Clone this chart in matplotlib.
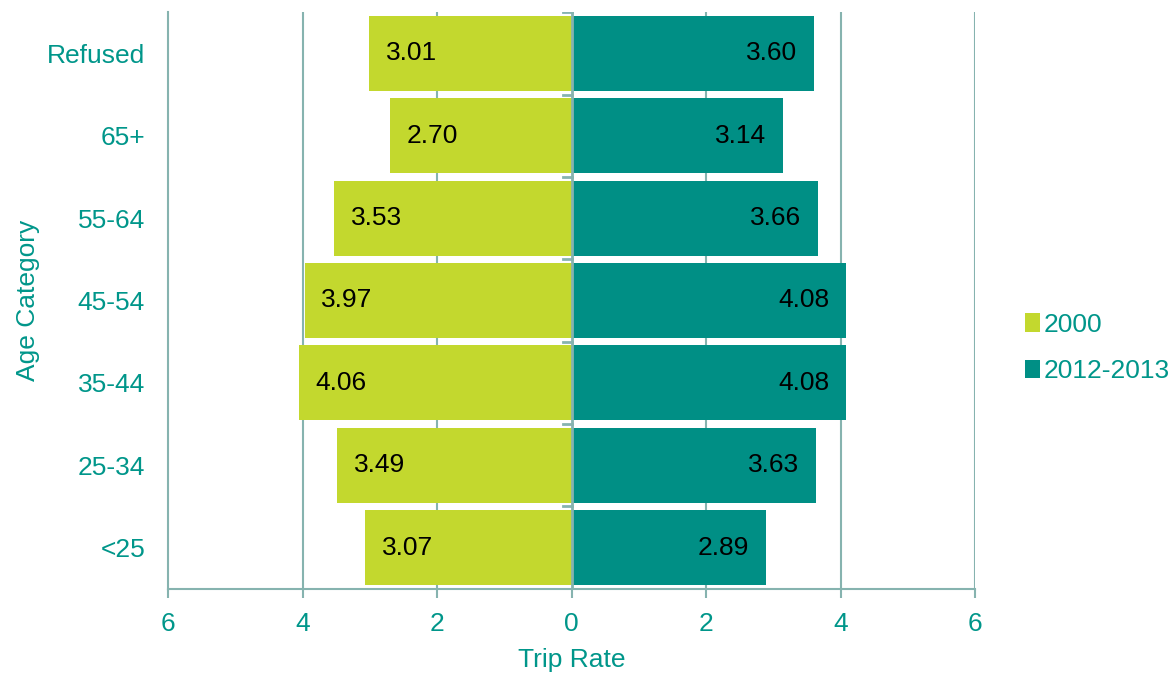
import numpy as np
import matplotlib.pyplot as plt

categories = ['<25', '25-34', '35-44', '45-54', '55-64', '65+', 'Refused']
rate_2000 = [3.07, 3.49, 4.06, 3.97, 3.53, 2.70, 3.01]
rate_2012 = [2.89, 3.63, 4.08, 4.08, 3.66, 3.14, 3.60]
xticks = [-6, -4, -2, 0, 2, 4, 6]
xtick_labels = ['6', '4', '2', '0', '2', '4', '6']

lime = '#C3D82E'
teal = '#008F85'
text_teal = '#00968A'
grid_col = '#86B3AF'

plt.rcParams['font.family'] = ['Liberation Sans', 'DejaVu Sans']
fig = plt.figure(figsize=(11.75, 6.73), dpi=100)
ax = fig.add_axes([0.143, 0.125, 0.687, 0.857])

y = np.arange(len(categories))
ax.barh(y, -np.array(rate_2000), height=0.91, color=lime, label='2000', zorder=2)
ax.barh(y, rate_2012, height=0.91, color=teal, label='2012-2013', zorder=2)

# value labels inside bars
for yi, v in zip(y, rate_2000):
    ax.annotate(f'{v:.2f}', (-v, yi), xytext=(12, 0), textcoords='offset points',
                ha='left', va='center', fontsize=19, color='black', zorder=4)
for yi, v in zip(y, rate_2012):
    ax.annotate(f'{v:.2f}', (v, yi), xytext=(-12, 0), textcoords='offset points',
                ha='right', va='center', fontsize=19, color='black', zorder=4)

ax.set_xlim(-6, 6)
ax.set_ylim(-0.5, len(categories) - 0.5)
ax.set_xticks(xticks)
ax.set_xticklabels(xtick_labels)
ax.set_yticks(y)
ax.set_yticklabels(categories)

# vertical gridlines and zero axis with small tick marks
for xt in xticks[1:]:
    if xt != 0:
        ax.axvline(xt, color=grid_col, lw=1.5, zorder=1)
ax.axvline(0, color=grid_col, lw=2, zorder=3)
for b in np.arange(-0.5, len(categories), 1.0):
    ax.plot([-0.13, 0], [b, b], color=grid_col, lw=2, zorder=3)

for s in ['top', 'right']:
    ax.spines[s].set_visible(False)
for s in ['left', 'bottom']:
    ax.spines[s].set_color(grid_col)
    ax.spines[s].set_linewidth(1.5)

ax.tick_params(axis='x', colors=grid_col, width=1.5, length=6.5, labelcolor=text_teal,
               labelsize=19, pad=10)
ax.tick_params(axis='y', length=0, labelcolor=text_teal, labelsize=19, pad=16.5)

ax.set_xlabel('Trip Rate', color=text_teal, fontsize=19, labelpad=9)
ax.set_ylabel('Age Category', color=text_teal, fontsize=19, labelpad=5)

leg = ax.legend(loc='center left', bbox_to_anchor=(1.049, 0.418), frameon=False,
                fontsize=19, handlelength=0.55, handleheight=0.7, handletextpad=0.15,
                labelspacing=0.85, borderaxespad=0)
for t in leg.get_texts():
    t.set_color(text_teal)

plt.savefig('out.png', dpi=100)
